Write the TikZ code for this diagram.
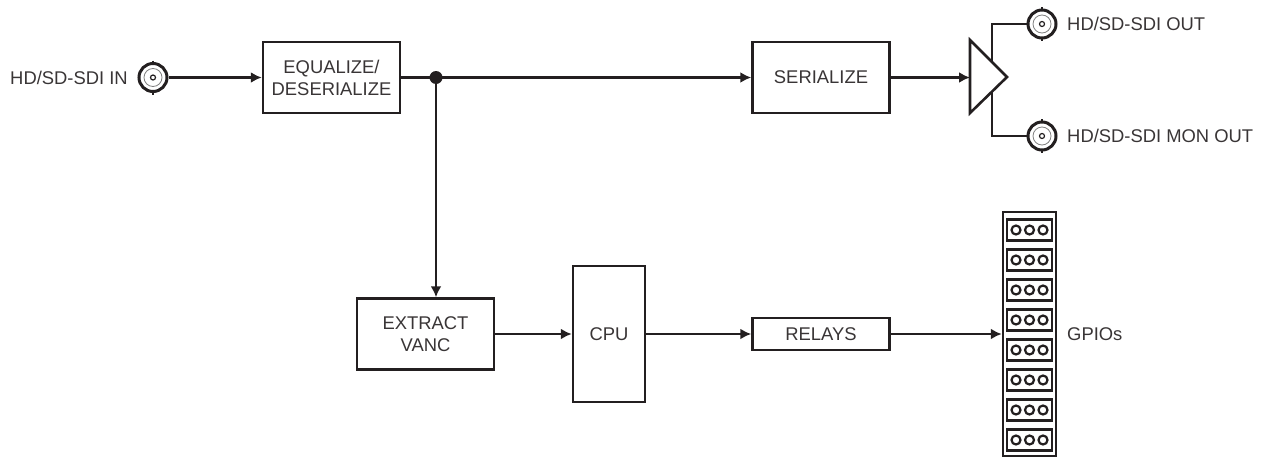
\documentclass[tikz,border=0pt]{standalone}
\usepackage{fontspec}
\setmainfont{Liberation Sans}
\usepackage{tikz}
\usetikzlibrary{shapes.geometric,arrows.meta,calc}
\definecolor{ink}{HTML}{231F20}
\tikzstyle{block} = [rectangle, draw=ink, line width=2.5pt, fill=white, text=ink!90, align=center,
  minimum width=137pt, minimum height=71pt, inner sep=0pt, font=\fontsize{18.4pt}{22pt}\selectfont]
\tikzstyle{label} = [text=ink!90, inner sep=0pt, font=\fontsize{18.4pt}{22pt}\selectfont]
\tikzstyle{bnc} = [circle, draw=ink, line width=3pt, fill=white, minimum size=28pt, inner sep=0pt]
\tikzstyle{slot} = [rectangle, draw=ink, line width=2.5pt, minimum width=45pt, minimum height=21pt, inner sep=0pt]
\tikzstyle{pin} = [circle, draw=ink, line width=2.2pt, minimum size=9pt, inner sep=0pt]
\tikzstyle{line} = [draw=ink, -{Latex[length=11pt,width=11pt]}, line width=2.5pt]
\tikzstyle{wire} = [draw=ink, line width=2.5pt]
% one connector: name, position
\newcommand{\bncport}[2]{
  \draw[ink, line width=2pt] ($(#2)+(0,-17)$) -- ($(#2)+(0,17)$);
  \node[bnc] (#1) at (#2) {};
  \draw[gray, line width=0.8pt] (#1) circle (9pt);
  \draw[ink, line width=1.2pt] (#1) circle (2.5pt);
}
\begin{document}
\begin{tikzpicture}[x=1pt, y=-1pt]
    \useasboundingbox (0,0) rectangle (1268,458);

    \node[block] (equalize) at (331.5,77.5) {EQUALIZE/\\DESERIALIZE};
    \node[block, right of=equalize, node distance=489.5pt] (serialize) {SERIALIZE};
    \node[block] (extract) at (425.5,334) {EXTRACT\\VANC};
    \node[block, minimum width=72pt, minimum height=136pt, right of=extract, node distance=183.5pt] (cpu) {CPU};
    \node[block, minimum height=32pt, right of=cpu, node distance=212pt] (relays) {RELAYS};

    % gpio strip
    \node[rectangle, draw=ink, line width=2.5pt, minimum width=53pt, minimum height=244pt, right of=relays, node distance=208.5pt] (gpio) {};
    \foreach \row in {0,...,7} {
      \node[slot] (slot\row) at (1029.5,230+30*\row) {};
      \foreach \col in {-1,0,1}
        \node[pin] at ($(slot\row)+(13.5*\col,0)$) {};
    }
    \node[label, anchor=west] (gpiotext) at (1067,334) {GPIOs};

    % ports
    \coordinate (junction) at (436,77.5);
    \coordinate (ampin) at (970,77.5);
    \coordinate (amptop) at (992,24);
    \coordinate (ampbot) at (992,136);
    \bncport{inport}{153,77.5}
    \bncport{outport}{1042,24}
    \bncport{monport}{1042,136}
    \node[label, anchor=east] (intext) at (128,77.5) {HD/SD-SDI IN};
    \node[label, anchor=west] (outtext) at (1067,24) {HD/SD-SDI OUT};
    \node[label, anchor=west] (montext) at (1067,136) {HD/SD-SDI MON OUT};

    \path[line] (inport) -- (equalize);
    \path[wire] (equalize) -- (junction);
    \path[line] (junction) -- (serialize);
    \path[line] (junction) -- (junction |- extract.north);
    \path[line] (serialize) -- (ampin);
    \path[line] (extract) -- (extract -| cpu.west);
    \path[line] (cpu.east |- relays) -- (relays);
    \path[line] (relays) -- (gpio);
    \path[wire] (992,77.5) -- (amptop) -- (outport);
    \path[wire] (992,77.5) -- (ampbot) -- (monport);

    \fill[ink] (junction) circle (6.5pt);
    \draw[ink, fill=white, line width=2.6pt, line join=miter] (ampin |- 0,40) -- (1007,77) -- (ampin |- 0,113) -- cycle;
  \end{tikzpicture}
\end{document}
